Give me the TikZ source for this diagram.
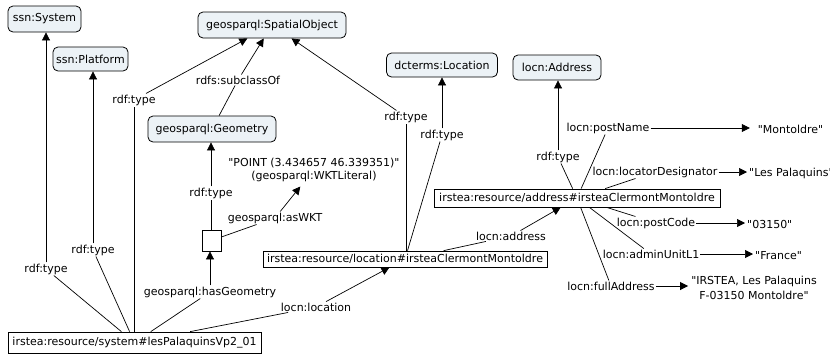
\documentclass[tikz,border=0pt]{standalone}
\usepackage{fontspec}
\setmainfont{DejaVu Sans}
\usetikzlibrary{arrows.meta}
\definecolor{clsfill}{RGB}{236,242,246}
\newcommand{\dqt}{\XeTeXglyph\XeTeXcharglyph34\relax}
\begin{document}
\begin{tikzpicture}[x=1pt,y=-1pt,
  font=\fontsize{11pt}{13pt}\selectfont,
  cls/.style={draw=black, fill=clsfill, rounded corners=5pt, inner xsep=2pt, inner ysep=0pt, line width=0.8pt},
  inst/.style={draw=black, rectangle, inner xsep=2pt, inner ysep=0pt, line width=0.8pt},
  lbl/.style={inner sep=1pt},
  litnode/.style={inner xsep=2pt, inner ysep=5pt, align=center},
  edge/.style={line width=0.7pt, black},
  arr/.style={edge, -{Triangle[length=8pt,width=8pt]}},
]
\useasboundingbox (0,0) rectangle (830,354);

% class nodes
\node[cls, minimum width=73pt, minimum height=26pt] (sysS) at (44.5,19) {ssn:System};
\node[cls, minimum width=75pt, minimum height=24pt] (platform) at (90.5,59) {ssn:Platform};
\node[cls, minimum width=148pt, minimum height=26pt] (spatial) at (272,25) {geosparql:SpatialObject};
\node[cls, minimum width=128pt, minimum height=26pt] (geometry) at (212,129) {geosparql:Geometry};
\node[cls, minimum width=111pt, minimum height=24pt] (dcloc) at (442,65) {dcterms:Location};
\node[cls, minimum width=88pt, minimum height=25pt] (locaddr) at (557,67.5) {locn:Address};

% instance nodes
\node[inst, minimum width=19pt, minimum height=21pt] (blank) at (211.5,240.5) {};
\node[inst, minimum width=253pt, minimum height=21pt] (sys) at (134.5,342.5) {irstea:resource/system\#lesPalaquinsVp2\_01};
\node[inst, minimum width=284pt, minimum height=16pt] (loc) at (405,259) {irstea:resource/location\#irsteaClermontMontoldre};
\node[inst, minimum width=286pt, minimum height=18pt] (addr) at (577,198) {irstea:resource/address\#irsteaClermontMontoldre};

% literals
\node[litnode] (wkt) at (314,169.5) {\dqt POINT (3.434657 46.339351)\dqt\\(geosparql:WKTLiteral)};
\node[inner sep=0pt, minimum width=81pt] (mont) at (790.5,129) {\dqt Montoldre\dqt};
\node[inner xsep=2pt, anchor=west] (lespal) at (747,173) {\dqt Les Palaquins\dqt};
\node[inner xsep=2pt, anchor=west] (code) at (745,224) {\dqt 03150\dqt};
\node[inner xsep=2pt, anchor=west] (france) at (753,256) {\dqt France\dqt};
\node[inner xsep=3pt, align=center] (full) at (754,287.5) {\dqt IRSTEA, Les Palaquins\\[2pt]F-03150 Montoldre\dqt};

% edge labels
\node[lbl] (l1) at (46,269) {rdf:type};
\node[lbl] (l2) at (93,250) {rdf:type};
\node[lbl] (l3) at (134,100) {rdf:type};
\node[lbl] (l4) at (238,80) {rdfs:subclassOf};
\node[lbl] (l5) at (406,117) {rdf:type};
\node[lbl] (l6) at (442,135) {rdf:type};
\node[lbl] (l7) at (511,236) {locn:address};
\node[lbl] (l8) at (558,157) {rdf:type};
\node[lbl] (l9) at (608,128) {locn:postName};
\node[lbl] (l10) at (655,172) {locn:locatorDesignator};
\node[lbl] (l11) at (656,223) {locn:postCode};
\node[lbl] (l12) at (651,254) {locn:adminUnitL1};
\node[lbl] (l13) at (611,286) {locn:fullAddress};
\node[lbl] (l14) at (210,292) {geosparql:hasGeometry};
\node[lbl] (l15) at (316,307) {locn:location};
\node[lbl] (l16) at (211,193) {rdf:type};
\node[lbl] (l17) at (275,218) {geosparql:asWKT};

% system edges
\draw[edge] (sys) -- (l1);
\draw[arr] (l1.north) -- (l1.north |- sysS.south);
\draw[edge] (sys) -- (l2);
\draw[arr] (l2.north) -- (l2.north |- platform.south);
\draw[edge] (sys.north -| l3.south) -- (l3.south);
\draw[arr] (l3) -- (spatial);
\draw[edge] (sys) -- (l14);
\draw[arr] (l14.north) -- (l14.north |- blank.south);
\draw[edge] (sys) -- (l15);
\draw[arr] (l15) -- (loc);

% geometry edges
\draw[edge] (geometry) -- (l4);
\draw[arr] (l4) -- (spatial);
\draw[edge] (blank.north -| l16.south) -- (l16.south);
\draw[arr] (l16.north) -- (l16.north |- geometry.south);
\draw[edge] (blank) -- (l17);
\draw[arr] (l17) -- (wkt);

% location edges
\draw[edge] (loc.north -| l5.south) -- (l5.south);
\draw[arr] (l5) -- (spatial);
\draw[edge] (loc) -- (l6);
\draw[arr] (l6.north) -- (l6.north |- dcloc.south);
\draw[edge] (loc) -- (l7);
\draw[arr] (l7) -- (addr);

% address edges
\draw[edge] (addr) -- (l8);
\draw[arr] (l8.north) -- (l8.north |- locaddr.south);
\draw[edge] (addr) -- (l9);
\draw[arr] (l9.east) -- (l9.east -| mont.west);
\draw[edge] (addr) -- (l10);
\draw[arr] (l10.east) -- (l10.east -| lespal.west);
\draw[edge] (addr) -- (l11);
\draw[arr] (l11.east) -- (l11.east -| code.west);
\draw[edge] (addr) -- (l12);
\draw[arr] (l12.east) -- (l12.east -| france.west);
\draw[edge] (addr) -- (l13);
\draw[arr] (l13.east) -- (l13.east -| full.west);
\end{tikzpicture}
\end{document}
